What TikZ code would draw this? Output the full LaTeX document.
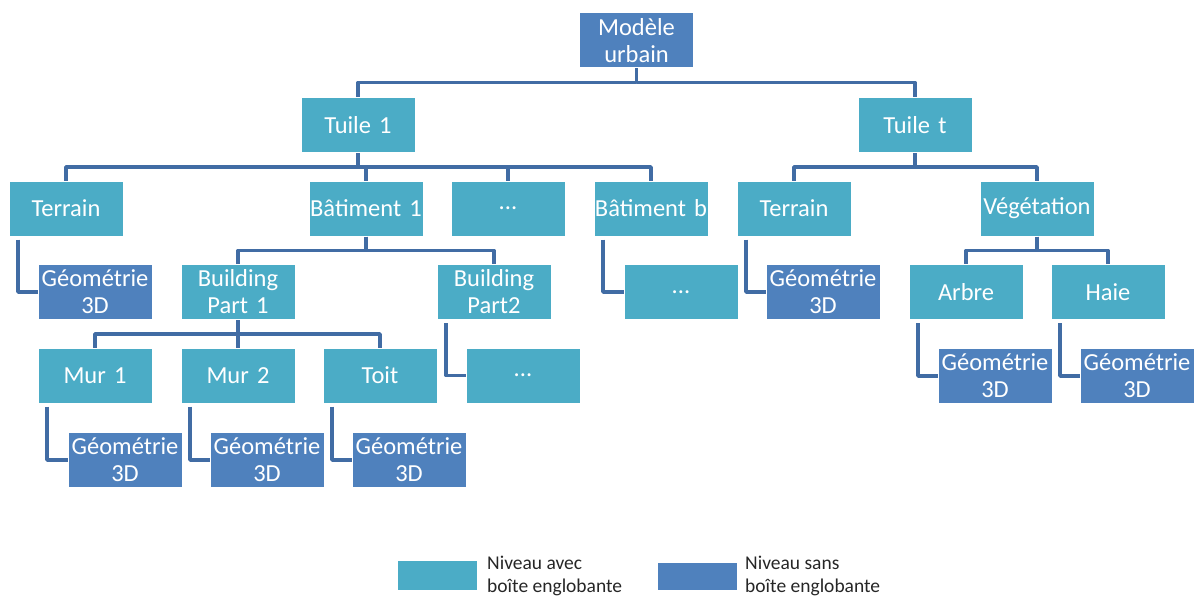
\documentclass[tikz,border=0pt]{standalone}
\usepackage{fontspec}
\setmainfont{Carlito}
\definecolor{cyanlvl}{HTML}{4BACC6}
\definecolor{bluelvl}{HTML}{4F81BD}
\definecolor{linkcol}{HTML}{416CA4}
\tikzset{
  box/.style={draw=white, line width=1pt, fill=cyanlvl, text=white, inner sep=0pt,
    text width=114pt, minimum height=55pt, align=center,
    font=\fontsize{24.5}{27}\selectfont},
  leaf/.style={box, fill=bluelvl},
  link/.style={draw=linkcol, line width=3.5pt, line join=round},
  legendtxt/.style={anchor=west, align=left, inner sep=0pt, text=black!85,
    font=\fontsize{19.5}{23}\selectfont}
}
\begin{document}
\begin{tikzpicture}[x=1pt, y=-1pt]
\useasboundingbox (0,0) rectangle (1198,599);

% --- racine et tuiles ---
\node[leaf] (mod) at (636.5,40.5) {Modèle\\urbain};
\node[box] (t1) at (358,125) {Tuile 1};
\node[box] (tt) at (915,125) {Tuile t};

% --- niveau des objets ---
\node[box] (ter1) at (66,208.5) {Terrain};
\node[box] (bat1) at (366,208.5) {Bâtiment 1};
\node[box] (dots1) at (508,208.5) {...};
\node[box] (batb) at (651,208.5) {Bâtiment b};
\node[box] (ter2) at (794,208.5) {Terrain};
\node[box] (veg) at (1037,208.5) {Végétation};

% --- parties ---
\node[leaf] (geo1) at (95,292) {Géométrie\\3D};
\node[box] (bp1) at (238,292) {Building\\Part 1};
\node[box] (bp2) at (494,292) {Building\\Part2};
\node[box] (dots2) at (681,292) {...};
\node[leaf] (geo2) at (823,292) {Géométrie\\3D};
\node[box] (arb) at (966,292) {Arbre};
\node[box] (haie) at (1108,292) {Haie};

\node[box] (mur1) at (95,375.5) {Mur 1};
\node[box] (mur2) at (238,375.5) {Mur 2};
\node[box] (toit) at (380,375.5) {Toit};
\node[box] (dots3) at (523,375.5) {...};
\node[leaf] (geoA) at (995,376) {Géométrie\\3D};
\node[leaf] (geoH) at (1137,376) {Géométrie\\3D};

\node[leaf] (geoM1) at (125,460) {Géométrie\\3D};
\node[leaf] (geoM2) at (267,460) {Géométrie\\3D};
\node[leaf] (geoT) at (409,460) {Géométrie\\3D};

% --- liens en arbre ---
\draw[link] (mod.south) -- ++(0,14) coordinate (m0) -| (t1.north);
\draw[link] (m0) -| (tt.north);
\foreach \kid in {ter1,bat1,dots1,batb}
  \draw[link] (t1.south) -- ++(0,14) -| (\kid.north);
\foreach \kid in {ter2,veg}
  \draw[link] (tt.south) -- ++(0,14) -| (\kid.north);
\foreach \kid in {bp1,bp2}
  \draw[link] (bat1.south) -- ++(0,14) -| (\kid.north);
\foreach \kid in {arb,haie}
  \draw[link] (veg.south) -- ++(0,14) -| (\kid.north);
\foreach \kid in {mur1,mur2,toit}
  \draw[link] (bp1.south) -- ++(0,14) -| (\kid.north);

% --- liens en coude ---
\foreach \mom/\kid in {ter1/geo1,batb/dots2,ter2/geo2,bp2/dots3,arb/geoA,haie/geoH,mur1/geoM1,mur2/geoM2,toit/geoT}
  \draw[link] ([xshift=9.5pt, yshift=-3pt]\mom.south west) |- (\kid.west);

% --- légende ---
\node[box, text width=80pt, minimum height=30pt] (legA) at (437,575) {};
\node[legendtxt] (txtA) at (487,576) {Niveau avec\\boîte englobante};
\node[leaf, text width=80pt, minimum height=28pt] (legB) at (697,576) {};
\node[legendtxt] (txtB) at (745,576) {Niveau sans\\boîte englobante};
\end{tikzpicture}
\end{document}
